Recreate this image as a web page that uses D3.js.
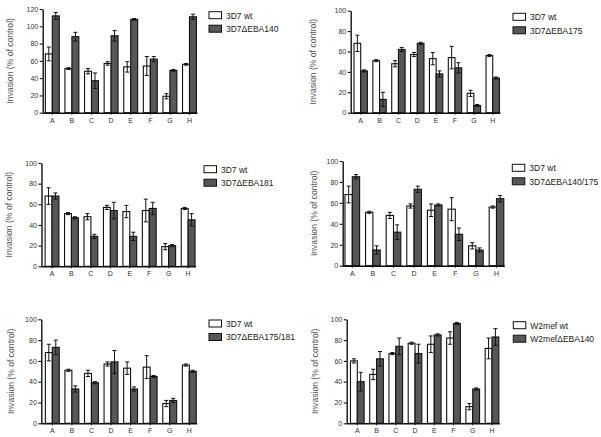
<!DOCTYPE html>
<html><head><meta charset="utf-8">
<script src="https://cdn.jsdelivr.net/npm/d3@7"></script>
<style>body{margin:0;background:#fff}svg{display:block}text{font-family:"Liberation Sans",Arial,sans-serif}</style>
</head><body>
<svg id="c" width="601" height="437"></svg>
<script>
const categories = ["A","B","C","D","E","F","G","H"];
const wt3D7 = [68,51,48,57,53,54,19,56];
const wt3D7Err = [8,1,3,2,6,11,3,1];
const eba140 = [112,88,37,89,108,62,49,111];
const eba140Err = [4,5,9,6,1,3,1,3];
const eba175 = [41,13,62,68,38,44,7,34];
const eba175Err = [1,7,2,1,3,5,1,1];
const eba181 = [68,47,29,54,29,56,20,45];
const eba181Err = [3,1,2,8,4,6,1,6];
const eba140175 = [85,15,32,73,58,30,15,64];
const eba140175Err = [2,4,7,3,1,6,2,3];
const eba175181 = [73,33,39,59,33,45,22,50];
const eba175181Err = [7,3,1,11,2,1,2,1];
const w2mefWt = [60,47,67,77,76,82,16,72];
const w2mefWtErr = [2,5,1,1,8,6,3,10];
const w2mef140 = [40,62,74,67,85,96,33,83];
const w2mef140Err = [9,7,8,9,1,1,1,8];
const yTicks120 = [0,20,40,60,80,100,120];
const yTicks100 = [0,20,40,60,80,100];
const yTitle = "Invasion (% of control)";

const panels = [
  {names:["3D7 wt","3D7\u0394EBA140"], a:wt3D7, ae:wt3D7Err, b:eba140, be:eba140Err, ticks:yTicks120,
   ax:42.7, y0:112.7, yt:9, first:52.3, step:19.6, lx:209, ly:11.7, tx:10},
  {names:["3D7 wt","3D7\u0394EBA175"], a:wt3D7, ae:wt3D7Err, b:eba175, be:eba175Err, ticks:yTicks100,
   ax:350.7, y0:112.7, yt:10.7, first:360.7, step:18.86, lx:513, ly:13.3, tx:313},
  {names:["3D7 wt","3D7\u0394EBA181"], a:wt3D7, ae:wt3D7Err, b:eba181, be:eba181Err, ticks:yTicks100,
   ax:41.5, y0:266.3, yt:163, first:52.0, step:19.45, lx:204, ly:165.7, tx:8.5},
  {names:["3D7 wt","3D7\u0394EBA140/175"], a:wt3D7, ae:wt3D7Err, b:eba140175, be:eba140175Err, ticks:yTicks100,
   ax:342.7, y0:265.7, yt:161, first:352.3, step:20.6, lx:512.3, ly:164.3, tx:314},
  {names:["3D7 wt","3D7\u0394EBA175/181"], a:wt3D7, ae:wt3D7Err, b:eba175181, be:eba175181Err, ticks:yTicks100,
   ax:41.3, y0:423.3, yt:319.3, first:52.3, step:19.57, lx:209, ly:320, tx:11},
  {names:["W2mef wt","W2mef\u0394EBA140"], a:w2mefWt, ae:w2mefWtErr, b:w2mef140, be:w2mef140Err, ticks:yTicks100,
   ax:346.7, y0:423.3, yt:319.3, first:357.3, step:19.24, lx:513.3, ly:321.7, tx:315}
];

const svg = d3.select("#c");
panels.forEach(p => {
  const g = svg.append("g");
  const ymax = p.ticks[p.ticks.length-1];
  const y = d3.scaleLinear().domain([0, ymax]).range([p.y0, p.yt]);
  const x = d3.scaleBand().domain(categories)
    .range([p.first - p.step/2, p.first + 7.5*p.step]).padding(0);
  const bw = p.step*0.355;
  const xs = d3.scaleBand().domain(["a","b"]).range([0, 2*bw]);
  const cx = c => x(c) + x.bandwidth()/2 - bw;

  ["a","b"].forEach(s => {
    const vals = p[s], errs = p[s+"e"];
    const fill = s === "a" ? "#ffffff" : "#575757";
    g.selectAll(null).data(categories).enter().append("rect")
      .attr("x", (c) => cx(c) + xs(s))
      .attr("y", (c,i) => y(vals[i]))
      .attr("width", xs.bandwidth())
      .attr("height", (c,i) => p.y0 - y(vals[i]))
      .attr("fill", fill).attr("stroke", "#111").attr("stroke-width", 1.1);
    const eg = g.selectAll(null).data(categories).enter().append("g");
    eg.append("line")
      .attr("x1", c => cx(c) + xs(s) + xs.bandwidth()/2)
      .attr("x2", c => cx(c) + xs(s) + xs.bandwidth()/2)
      .attr("y1", (c,i) => y(Math.max(0, vals[i]-errs[i])))
      .attr("y2", (c,i) => y(vals[i]+errs[i]))
      .attr("stroke", "#111").attr("stroke-width", 1);
    [1,-1].forEach(sg => {
      eg.append("line")
        .attr("x1", c => cx(c) + xs(s) + xs.bandwidth()/2 - 2)
        .attr("x2", c => cx(c) + xs(s) + xs.bandwidth()/2 + 2)
        .attr("y1", (c,i) => y(Math.max(0, vals[i]+sg*errs[i])))
        .attr("y2", (c,i) => y(Math.max(0, vals[i]+sg*errs[i])))
        .attr("stroke", "#111").attr("stroke-width", 1);
    });
  });

  const yAxis = d3.axisLeft(y).tickValues(p.ticks).tickSize(3).tickSizeOuter(0).tickPadding(1.5);
  const ya = g.append("g").attr("transform", `translate(${p.ax},0)`).call(yAxis);
  ya.select(".domain").attr("stroke", "#111").attr("stroke-width", 1.4);
  ya.selectAll(".tick line").attr("stroke", "#111").attr("stroke-width", 1.1);
  ya.selectAll(".tick text").attr("font-size", 7).attr("fill", "#333")
    .attr("font-family", '"Liberation Sans",Arial,sans-serif');

  const xAxis = d3.axisBottom(x).tickSize(2).tickSizeOuter(0).tickPadding(3);
  const xa = g.append("g").attr("transform", `translate(0,${p.y0})`).call(xAxis);
  const xEnd = cx(categories[7]) + 2*bw + 1;
  xa.select(".domain").attr("d", `M${p.ax},0.5H${xEnd}`).attr("stroke", "#111").attr("stroke-width", 1.4);
  xa.selectAll(".tick line").attr("stroke", "#111");
  xa.selectAll(".tick text").attr("font-size", 7).attr("fill", "#333")
    .attr("font-family", '"Liberation Sans",Arial,sans-serif');

  g.append("text")
    .attr("transform", `translate(${p.tx + 3},${(p.y0 + p.yt)/2}) rotate(-90)`)
    .attr("text-anchor", "middle").attr("font-size", 8.6).attr("fill", "#555")
    .text(yTitle);

  p.names.forEach((n, i) => {
    const yy = p.ly + i*13.5;
    g.append("rect").attr("x", p.lx).attr("y", yy).attr("width", 12.5).attr("height", 7)
      .attr("fill", i === 0 ? "#fff" : "#575757").attr("stroke", "#111").attr("stroke-width", 1);
    g.append("text").attr("x", p.lx + 17).attr("y", yy + 6.8)
      .attr("font-size", 8.5).attr("fill", "#222").text(n);
  });
});
</script>
</body></html>
